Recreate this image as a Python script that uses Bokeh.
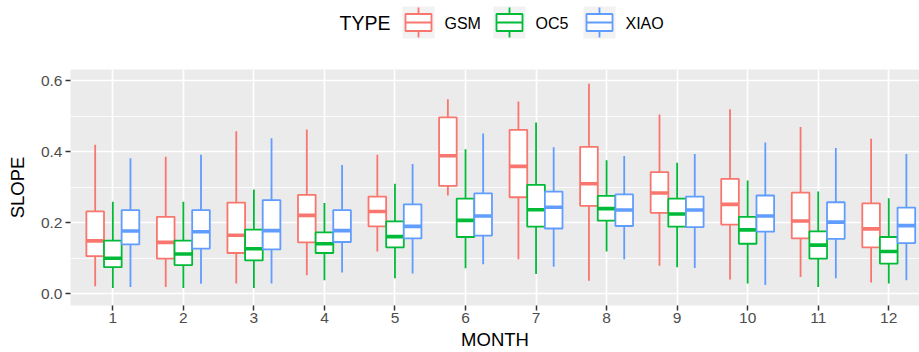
import numpy as np
from bokeh.plotting import figure
from bokeh.models import ColumnDataSource, Range1d, FixedTicker
from bokeh.layouts import column
from bokeh.embed import file_html
from bokeh.resources import INLINE
from bokeh.core.properties import value

months = list(range(1, 13))
types = ["GSM", "OC5", "XIAO"]
colors = ["#F8766D", "#00BA38", "#619CFF"]

gsm_lo  = [0.021, 0.019, 0.029, 0.052, 0.119, 0.277, 0.097, 0.037, 0.079, 0.040, 0.047, 0.032]
gsm_q1  = [0.106, 0.099, 0.115, 0.145, 0.190, 0.304, 0.272, 0.248, 0.228, 0.195, 0.156, 0.131]
gsm_med = [0.149, 0.145, 0.165, 0.221, 0.232, 0.389, 0.359, 0.310, 0.284, 0.252, 0.205, 0.183]
gsm_q3  = [0.232, 0.217, 0.257, 0.279, 0.274, 0.497, 0.462, 0.414, 0.343, 0.324, 0.285, 0.255]
gsm_hi  = [0.420, 0.386, 0.458, 0.463, 0.392, 0.548, 0.542, 0.592, 0.505, 0.520, 0.470, 0.437]

oc5_lo  = [0.016, 0.016, 0.016, 0.038, 0.044, 0.072, 0.056, 0.119, 0.075, 0.029, 0.019, 0.029]
oc5_q1  = [0.075, 0.081, 0.094, 0.115, 0.131, 0.160, 0.189, 0.206, 0.189, 0.141, 0.099, 0.085]
oc5_med = [0.100, 0.112, 0.127, 0.141, 0.161, 0.207, 0.237, 0.240, 0.225, 0.180, 0.137, 0.119]
oc5_q3  = [0.150, 0.150, 0.181, 0.173, 0.204, 0.268, 0.307, 0.276, 0.268, 0.217, 0.176, 0.160]
oc5_hi  = [0.259, 0.259, 0.294, 0.256, 0.310, 0.407, 0.483, 0.376, 0.369, 0.319, 0.288, 0.269]

xiao_lo  = [0.019, 0.028, 0.029, 0.060, 0.057, 0.083, 0.076, 0.097, 0.073, 0.025, 0.044, 0.038]
xiao_q1  = [0.139, 0.127, 0.125, 0.146, 0.156, 0.164, 0.184, 0.191, 0.188, 0.175, 0.155, 0.143]
xiao_med = [0.177, 0.175, 0.178, 0.178, 0.190, 0.219, 0.244, 0.236, 0.236, 0.219, 0.202, 0.192]
xiao_q3  = [0.236, 0.236, 0.264, 0.236, 0.252, 0.283, 0.288, 0.280, 0.274, 0.277, 0.258, 0.243]
xiao_hi  = [0.382, 0.392, 0.438, 0.363, 0.366, 0.452, 0.413, 0.388, 0.394, 0.426, 0.411, 0.394]

y_ticks = [0.0, 0.2, 0.4, 0.6]
y_minor = [0.1, 0.3, 0.5]

stats = {
    "GSM": (gsm_lo, gsm_q1, gsm_med, gsm_q3, gsm_hi),
    "OC5": (oc5_lo, oc5_q1, oc5_med, oc5_q3, oc5_hi),
    "XIAO": (xiao_lo, xiao_q1, xiao_med, xiao_q3, xiao_hi),
}

FONT = "Liberation Sans"
BOXW = 0.25
LW = 1.8
LEFT = 70

# ---------------- main plot ----------------
p = figure(width=919, height=307, x_range=Range1d(0.4, 12.436), y_range=Range1d(-0.033, 0.632),
           output_backend="svg", toolbar_location=None,
           min_border_left=LEFT, min_border_right=0, min_border_top=24, min_border_bottom=47)
p.background_fill_color = "#EBEBEB"
p.border_fill_color = "white"
p.outline_line_color = None

for i, t in enumerate(types):
    lo, q1, med, q3, hi = stats[t]
    x = np.array(months, dtype=float) + (i - 1) * BOXW
    src = ColumnDataSource(dict(x=x, lo=lo, q1=q1, med=med, q3=q3, hi=hi,
                                xl=x - BOXW / 2, xr=x + BOXW / 2))
    p.segment(x0="x", y0="lo", x1="x", y1="hi", source=src, line_color=colors[i], line_width=LW)
    p.vbar(x="x", width=BOXW, bottom="q1", top="q3", source=src, fill_color="white",
           line_color=colors[i], line_width=LW)
    p.segment(x0="xl", y0="med", x1="xr", y1="med", source=src, line_color=colors[i],
              line_width=3.6, line_cap="butt")

p.xaxis.ticker = FixedTicker(ticks=months)
p.xaxis.major_label_overrides = {m: str(m) for m in months}
p.yaxis.ticker = FixedTicker(ticks=y_ticks, minor_ticks=y_minor)
p.yaxis.major_label_overrides = {v: f"{v:.1f}" for v in y_ticks}
p.xgrid.ticker = FixedTicker(ticks=months)
p.ygrid.ticker = FixedTicker(ticks=y_ticks, minor_ticks=y_minor)

for g in (p.xgrid, p.ygrid):
    g.grid_line_color = "white"
    g.grid_line_width = 1.6
p.ygrid.minor_grid_line_color = "white"
p.ygrid.minor_grid_line_width = 0.8

for ax in (p.xaxis, p.yaxis):
    ax.axis_line_color = None
    ax.major_tick_line_color = "#333333"
    ax.major_tick_line_width = 1.5
    ax.major_tick_in = 0
    ax.major_tick_out = 5
    ax.minor_tick_line_color = None
    ax.major_label_text_font = FONT
    ax.major_label_text_font_size = "15.5px"
    ax.major_label_text_color = "#4D4D4D"
    ax.axis_label_text_font = FONT
    ax.axis_label_text_font_size = "18.5px"
    ax.axis_label_text_font_style = "normal"
    ax.axis_label_text_color = "black"
p.xaxis.axis_label = "MONTH"
p.yaxis.axis_label = "SLOPE"
p.xaxis.major_label_standoff = 2
p.yaxis.major_label_standoff = 3
p.xaxis.axis_label_standoff = 3
p.yaxis.axis_label_standoff = 10

# ---------------- legend strip (its frame is aligned with the main frame: 70..919 px) ----------------
leg = figure(width=919, height=45, x_range=Range1d(LEFT, 919), y_range=Range1d(45, 0),
             output_backend="svg", toolbar_location=None, x_axis_type=None, y_axis_type=None,
             min_border_left=LEFT, min_border_right=0, min_border_top=0, min_border_bottom=0)
leg.title.visible = False
leg.outline_line_color = None
leg.xgrid.visible = False
leg.ygrid.visible = False
leg.background_fill_color = "white"
leg.border_fill_color = "white"

key_left = [402, 493, 583]
KEY = 32
key_top = 6
kx0 = np.array(key_left, dtype=float)
kx1 = kx0 + KEY
kc = (kx0 + kx1) / 2
ksrc = ColumnDataSource(dict(
    x0=kx0, x1=kx1, xc=kc, bx0=kx0 + 3, bx1=kx1 - 3,
    top=[key_top] * 3, bot=[key_top + KEY] * 3,
    wt=[key_top + 1] * 3, bt=[key_top + 7.5] * 3, med=[key_top + KEY / 2] * 3,
    bb=[key_top + KEY - 7.5] * 3, wb=[key_top + KEY - 1] * 3,
    col=colors, lab=types, lx=kx1 + 10, ly=[key_top + KEY / 2 + 0.5] * 3))
leg.quad(left="x0", right="x1", top="top", bottom="bot", source=ksrc, fill_color="#F2F2F2", line_color=None)
leg.segment(x0="xc", y0="wt", x1="xc", y1="wb", source=ksrc, line_color="col", line_width=LW)
leg.quad(left="bx0", right="bx1", top="bt", bottom="bb", source=ksrc, fill_color="white",
         line_color="col", line_width=LW)
leg.segment(x0="bx0", y0="med", x1="bx1", y1="med", source=ksrc, line_color="col", line_width=LW)
leg.text(x="lx", y="ly", text="lab", source=ksrc, text_font=value(FONT), text_font_size="16px",
         text_baseline="middle", text_align="left", text_color="black")
leg.text(x=[339], y=[key_top + KEY / 2 + 0.5], text=["TYPE"], text_font=value(FONT),
         text_font_size="19.5px", text_baseline="middle", text_align="left", text_color="black")

layout = column(leg, p, spacing=0)
open("out.html", "w").write(file_html(layout, INLINE))
